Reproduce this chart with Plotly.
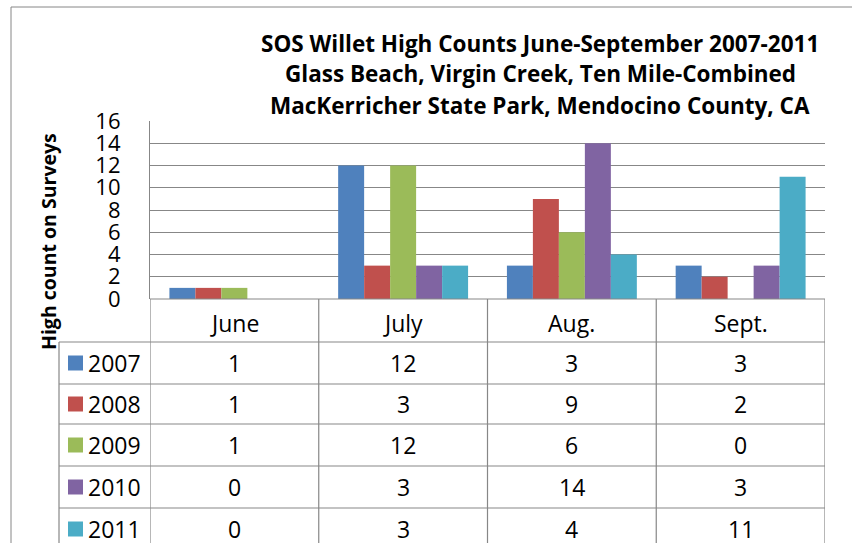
import plotly.graph_objects as go

months = ["June", "July", "Aug.", "Sept."]
years = ["2007", "2008", "2009", "2010", "2011"]
v2007 = [1, 12, 3, 3]
v2008 = [1, 3, 9, 2]
v2009 = [1, 12, 6, 0]
v2010 = [0, 3, 14, 3]
v2011 = [0, 3, 4, 11]
series = [v2007, v2008, v2009, v2010, v2011]
colors = ["#4F81BD", "#C0504D", "#9BBB59", "#8064A2", "#4BACC6"]
title_lines = [
    "SOS Willet High Counts June-September 2007-2011",
    "Glass Beach, Virgin Creek, Ten Mile-Combined",
    "MacKerricher State Park, Mendocino County, CA",
]
y_title = "High count on Surveys"

W, H = 852, 543
L, R, T, B = 150, 825, 121, 299
FONT = "Open Sans"
GRID = "#878787"


def px(x):
    return (x - L) / (R - L)


def py(y):
    return (B - y) / (B - T)


fig = go.Figure()
for name, vals, c in zip(years, series, colors):
    fig.add_trace(go.Bar(x=months, y=vals, name=name, marker=dict(color=c, line=dict(width=0))))

shapes = []
annotations = []

# outer chart border
shapes.append(dict(type="rect", xref="paper", yref="paper", x0=px(11), x1=px(870), y0=py(7), y1=py(560),
                   line=dict(color="#868686", width=1), layer="below"))

# table lines
row_lines = [342, 384, 424, 466, 508, 550]
for yl in row_lines:
    shapes.append(dict(type="line", xref="paper", yref="paper", x0=px(59), x1=px(R), y0=py(yl), y1=py(yl),
                       line=dict(color=GRID, width=1.2)))
shapes.append(dict(type="line", xref="paper", yref="paper", x0=0, x1=1, y0=0, y1=0,
                   line=dict(color=GRID, width=1.2)))
shapes.append(dict(type="line", xref="paper", yref="paper", x0=px(59), x1=px(59), y0=py(342), y1=py(560),
                   line=dict(color=GRID, width=1.2)))
for k in range(len(months) + 1):
    xb = k - 0.5
    shapes.append(dict(type="line", xref="x", yref="paper", x0=xb, x1=xb, y0=0, y1=py(560),
                       line=dict(color=GRID, width=1.2)))

TF = dict(family=FONT, size=23, color="black")
# header
for m in months:
    annotations.append(dict(x=m, y=py(323), xref="x", yref="paper", text=m, showarrow=False,
                            xanchor="center", yanchor="middle", font=TF))
row_centers = [363, 404, 445, 487, 529]
for yr, vals, c, yc in zip(years, series, colors, row_centers):
    shapes.append(dict(type="rect", xref="paper", yref="paper", x0=px(68), x1=px(83), y0=py(yc - 7.5), y1=py(yc + 7.5),
                       fillcolor=c, line=dict(width=0)))
    annotations.append(dict(x=px(86), y=py(yc), xref="paper", yref="paper", text=yr, showarrow=False,
                            xanchor="left", yanchor="middle", font=TF))
    for m, v in zip(months, vals):
        annotations.append(dict(x=m, y=py(yc), xref="x", yref="paper", text=str(v), showarrow=False,
                                xanchor="center", yanchor="middle", font=TF))

# title
for line, yc in zip(title_lines, [43, 74, 105]):
    annotations.append(dict(x=px(540), y=py(yc), xref="paper", yref="paper", text="<b>" + line + "</b>",
                            showarrow=False, xanchor="center", yanchor="middle",
                            font=dict(family=FONT, size=22.5, color="black")))

# y axis title
annotations.append(dict(x=px(48), y=py(242), xref="paper", yref="paper", text="<b>" + y_title + "</b>",
                        showarrow=False, textangle=-90, xanchor="center", yanchor="middle",
                        font=dict(family=FONT, size=19.5, color="black")))

fig.update_layout(
    width=W, height=H,
    margin=dict(l=L, r=W - R, t=T, b=H - B, pad=0),
    paper_bgcolor="white", plot_bgcolor="white",
    barmode="group", bargap=0.23, bargroupgap=0,
    showlegend=False,
    shapes=shapes, annotations=annotations,
    xaxis=dict(range=[-0.5, 3.5], showticklabels=False, showgrid=False, zeroline=False, showline=False,
               fixedrange=True),
    yaxis=dict(range=[0, 16], dtick=2, showgrid=True, gridcolor=GRID, gridwidth=1, zeroline=False,
               showline=True, linecolor=GRID, linewidth=1.2, ticks="", ticklabelstandoff=24,
               tickfont=dict(family=FONT, size=22, color="black")),
    font=dict(family=FONT),
)

fig.write_html("out.html", config={"displayModeBar": False},
               post_script="document.body.style.margin='0';")
